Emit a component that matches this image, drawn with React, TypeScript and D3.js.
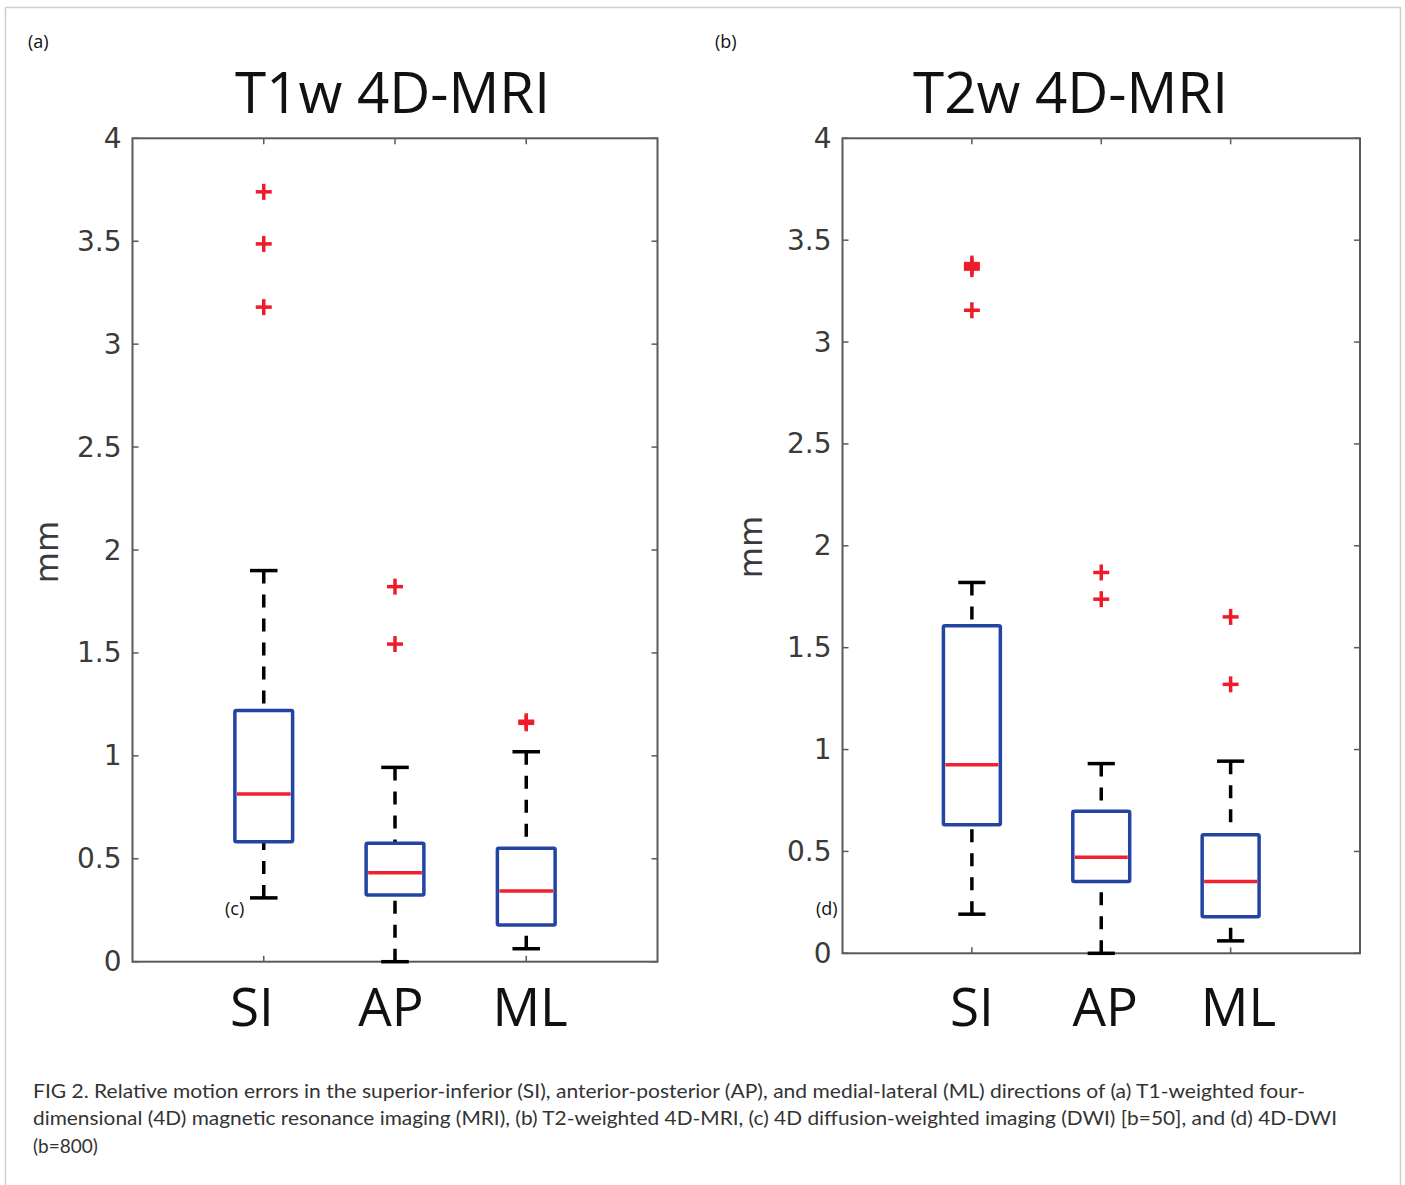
import React from "react";
import * as d3 from "d3";

// ---------- DATA ----------
const categories = ["SI", "AP", "ML"];
const yTicks = [0, 0.5, 1, 1.5, 2, 2.5, 3, 3.5, 4];
const yTickLabels = ["0", "0.5", "1", "1.5", "2", "2.5", "3", "3.5", "4"];

// Panel (a) T1w 4D-MRI
const t1wLowerWhisker = [0.31, 0.0, 0.063];
const t1wQ1 = [0.583, 0.324, 0.178];
const t1wMedian = [0.815, 0.432, 0.343];
const t1wQ3 = [1.22, 0.575, 0.551];
const t1wUpperWhisker = [1.9, 0.944, 1.02];
const t1wOutliers = [[3.74, 3.487, 3.18], [1.822, 1.543], [1.168, 1.158]];

// Panel (b) T2w 4D-MRI
const t2wLowerWhisker = [0.192, 0.0, 0.061];
const t2wQ1 = [0.631, 0.352, 0.18];
const t2wMedian = [0.925, 0.472, 0.352];
const t2wQ3 = [1.607, 0.697, 0.582];
const t2wUpperWhisker = [1.82, 0.931, 0.943];
const t2wOutliers = [[3.385, 3.372, 3.358, 3.156], [1.869, 1.738], [1.651, 1.32]];

const captionLines = [
  "FIG 2. Relative motion errors in the superior-inferior (SI), anterior-posterior (AP), and medial-lateral (ML) directions of (a) T1-weighted four-",
  "dimensional (4D) magnetic resonance imaging (MRI), (b) T2-weighted 4D-MRI, (c) 4D diffusion-weighted imaging (DWI) [b=50], and (d) 4D-DWI",
  "(b=800)",
];

// ---------- STYLE ----------
const BOX_BLUE = "#2444a4";
const MED_RED = "#f0202c";
const OUT_RED = "#ee1c2a";
const AXIS_GRAY = "#5a5a5a";
const TICK_TEXT = "#3a3a3a";

type PanelProps = {
  title: string;
  left: number;
  right: number;
  top: number;
  bottom: number;
  titleX: number;
  labelSpread: number;
  labelShift: number;
  mmX: number;
  mmY: number;
  lw: number[];
  q1: number[];
  med: number[];
  q3: number[];
  uw: number[];
  outliers: number[][];
};

function Panel(p: PanelProps) {
  const x = d3.scaleLinear().domain([0, 4]).range([p.left, p.right]);
  const y = d3.scaleLinear().domain([0, 4]).range([p.bottom, p.top]);
  const boxHalf = (x(0.44) - x(0)) / 2;
  const capHalf = (x(0.21) - x(0)) / 2;
  const tickLen = 6;
  const arm = 8;
  return (
    <g>
      <text
        x={p.titleX}
        y={113}
        textAnchor="middle"
        fontFamily="'Open Sans', sans-serif"
        fontSize={56}
        fill="#111"
        textLength={315}
        lengthAdjust="spacingAndGlyphs"
      >
        {p.title}
      </text>
      <rect
        x={p.left}
        y={p.top}
        width={p.right - p.left}
        height={p.bottom - p.top}
        fill="none"
        stroke={AXIS_GRAY}
        strokeWidth={2}
      />
      {yTicks.map((t, i) => (
        <g key={"yt" + i}>
          <line x1={p.left} x2={p.left + tickLen} y1={y(t)} y2={y(t)} stroke={AXIS_GRAY} strokeWidth={1.5} />
          <line x1={p.right} x2={p.right - tickLen} y1={y(t)} y2={y(t)} stroke={AXIS_GRAY} strokeWidth={1.5} />
          <text
            x={p.left - 11}
            y={y(t)}
            textAnchor="end"
            dominantBaseline="central"
            fontFamily="'DejaVu Sans', sans-serif"
            fontSize={28}
            fill={TICK_TEXT}
          >
            {yTickLabels[i]}
          </text>
        </g>
      ))}
      {categories.map((c, i) => {
        const cx = x(i + 1);
        const lx = x(2) + (cx - x(2)) * p.labelSpread + p.labelShift;
        return (
          <g key={"xc" + i}>
            <line x1={cx} x2={cx} y1={p.top} y2={p.top + tickLen} stroke={AXIS_GRAY} strokeWidth={1.5} />
            <line x1={cx} x2={cx} y1={p.bottom} y2={p.bottom - tickLen} stroke={AXIS_GRAY} strokeWidth={1.5} />
            <text
              x={lx}
              y={1026}
              textAnchor="middle"
              fontFamily="'Open Sans', sans-serif"
              fontSize={53}
              fill="#111"
            >
              {c}
            </text>
          </g>
        );
      })}
      <text
        transform={`translate(${p.mmX},${p.mmY}) rotate(-90)`}
        textAnchor="middle"
        dominantBaseline="central"
        fontFamily="'DejaVu Sans', sans-serif"
        fontSize={32}
        fill={TICK_TEXT}
      >
        mm
      </text>
      {categories.map((c, i) => {
        const cx = x(i + 1);
        return (
          <g key={"box" + i}>
            <line x1={cx} x2={cx} y1={y(p.uw[i])} y2={y(p.q3[i])} stroke="#000" strokeWidth={3.5} strokeDasharray="13,11" />
            <line x1={cx} x2={cx} y1={y(p.lw[i])} y2={y(p.q1[i])} stroke="#000" strokeWidth={3.5} strokeDasharray="13,11" />
            <line x1={cx - capHalf} x2={cx + capHalf} y1={y(p.uw[i])} y2={y(p.uw[i])} stroke="#000" strokeWidth={3.5} />
            <line x1={cx - capHalf} x2={cx + capHalf} y1={y(p.lw[i])} y2={y(p.lw[i])} stroke="#000" strokeWidth={3.5} />
            <rect
              x={cx - boxHalf}
              y={y(p.q3[i])}
              width={boxHalf * 2}
              height={y(p.q1[i]) - y(p.q3[i])}
              fill="none"
              stroke={BOX_BLUE}
              strokeWidth={3.5}
              rx={1.5}
            />
            <line x1={cx - boxHalf + 2} x2={cx + boxHalf - 2} y1={y(p.med[i])} y2={y(p.med[i])} stroke={MED_RED} strokeWidth={3.5} />
            {p.outliers[i].map((v, j) => (
              <g key={"o" + j}>
                <line x1={cx - arm} x2={cx + arm} y1={y(v)} y2={y(v)} stroke={OUT_RED} strokeWidth={3.5} />
                <line x1={cx} x2={cx} y1={y(v) - arm} y2={y(v) + arm} stroke={OUT_RED} strokeWidth={3.5} />
              </g>
            ))}
          </g>
        );
      })}
    </g>
  );
}

export default function App() {
  return (
    <div style={{ position: "absolute", left: 0, top: 0 }}>
      <svg width={1405} height={1185} viewBox="0 0 1405 1185" style={{ display: "block", background: "#fff" }}>
        <rect x={0} y={0} width={1405} height={1185} fill="#fff" />
        <path d="M5.5,1185 V7.5 H1400.5 V1185" fill="none" stroke="#cfcfcf" strokeWidth={1.5} />
        <Panel
          title="T1w 4D-MRI"
          left={132.5}
          right={657.5}
          top={138.3}
          bottom={961.7}
          titleX={392.5}
          labelSpread={1.06}
          labelShift={-4}
          mmX={47}
          mmY={552}
          lw={t1wLowerWhisker}
          q1={t1wQ1}
          med={t1wMedian}
          q3={t1wQ3}
          uw={t1wUpperWhisker}
          outliers={t1wOutliers}
        />
        <Panel
          title="T2w 4D-MRI"
          left={842.5}
          right={1360}
          top={138.3}
          bottom={953.3}
          titleX={1070.5}
          labelSpread={1.03}
          labelShift={4}
          mmX={751}
          mmY={547}
          lw={t2wLowerWhisker}
          q1={t2wQ1}
          med={t2wMedian}
          q3={t2wQ3}
          uw={t2wUpperWhisker}
          outliers={t2wOutliers}
        />
        <text x={28} y={48} fontFamily="'Open Sans', sans-serif" fontSize={18} fill="#111">(a)</text>
        <text x={715} y={48} fontFamily="'Open Sans', sans-serif" fontSize={18} fill="#111">(b)</text>
        <text x={225} y={915} fontFamily="'Open Sans', sans-serif" fontSize={18} fill="#111">(c)</text>
        <text x={816} y={915} fontFamily="'Open Sans', sans-serif" fontSize={18} fill="#111">(d)</text>
        <text x={33} y={1098} fontFamily="Lato, sans-serif" fontSize={19} fill="#333" textLength={1272} lengthAdjust="spacingAndGlyphs">
          {captionLines[0]}
        </text>
        <text x={33} y={1125} fontFamily="Lato, sans-serif" fontSize={19} fill="#333" textLength={1304} lengthAdjust="spacingAndGlyphs">
          {captionLines[1]}
        </text>
        <text x={33} y={1153} fontFamily="Lato, sans-serif" fontSize={19} fill="#333">
          {captionLines[2]}
        </text>
      </svg>
    </div>
  );
}
